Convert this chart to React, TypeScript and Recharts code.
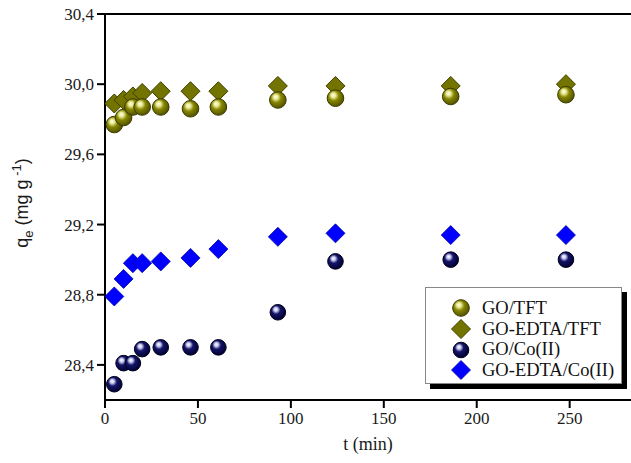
import React from 'react';
import { ScatterChart, Scatter, XAxis, YAxis, Legend, Label, ReferenceLine } from 'recharts';

// contact time (min)
const times = [5, 10, 15, 20, 30, 46, 61, 93, 124, 186, 248];

// q_e (mg g-1) per series
const goTft = [29.77, 29.81, 29.87, 29.87, 29.87, 29.86, 29.87, 29.91, 29.92, 29.93, 29.94];
const goEdtaTft = [29.89, 29.91, 29.93, 29.95, 29.96, 29.96, 29.96, 29.99, 29.99, 29.99, 30.0];
const goCo = [28.29, 28.41, 28.41, 28.49, 28.5, 28.5, 28.5, 28.7, 28.99, 29.0, 29.0];
const goEdtaCo = [28.79, 28.89, 28.98, 28.98, 28.99, 29.01, 29.06, 29.13, 29.15, 29.14, 29.14];

const xTicks = [0, 50, 100, 150, 200, 250];
const yTicks = [28.4, 28.8, 29.2, 29.6, 30.0, 30.4];

type Kind = 'oliveBall' | 'oliveDiamond' | 'navyBall' | 'blueDiamond';

interface SeriesConfig {
  name: string;
  values: number[];
  kind: Kind;
}

const series: SeriesConfig[] = [
  { name: 'GO/TFT', values: goTft, kind: 'oliveBall' },
  { name: 'GO-EDTA/TFT', values: goEdtaTft, kind: 'oliveDiamond' },
  { name: 'GO/Co(II)', values: goCo, kind: 'navyBall' },
  { name: 'GO-EDTA/Co(II)', values: goEdtaCo, kind: 'blueDiamond' },
];

// diamonds first so the balls sit on top of them
const drawOrder = [series[1], series[3], series[0], series[2]];

const serif = '"Liberation Serif", "Times New Roman", serif';
const sans = '"Liberation Sans", Arial, sans-serif';

const Marker = ({ kind, cx, cy }: { kind: Kind; cx: number; cy: number }) => {
  if (kind === 'oliveBall') {
    return <circle cx={cx} cy={cy} r={8.3} fill="url(#ballOlive)" stroke="#3a3a00" strokeWidth={1} />;
  }
  if (kind === 'navyBall') {
    return <circle cx={cx} cy={cy} r={7.8} fill="url(#ballNavy)" stroke="#00001a" strokeWidth={1} />;
  }
  const d = 9.5;
  const pts = `${cx},${cy - d} ${cx + d},${cy} ${cx},${cy + d} ${cx - d},${cy}`;
  if (kind === 'oliveDiamond') {
    return <polygon points={pts} fill="#737300" stroke="#3f3f00" strokeWidth={1} />;
  }
  return <polygon points={pts} fill="#0000ff" stroke="#0000a8" strokeWidth={0.8} />;
};

const YTitle = (props: any) => {
  const vb = props.viewBox || { x: 0, y: 0, width: 0, height: 0 };
  const x = vb.x + 28;
  const y = vb.y + vb.height / 2 - 4;
  return (
    <text
      x={x}
      y={y}
      transform={`rotate(-90 ${x} ${y})`}
      textAnchor="middle"
      fontFamily={sans}
      fontSize={18}
      fill="#1a1a1a"
    >
      q
      <tspan dy={5} fontSize={13}>e</tspan>
      <tspan dy={-5}> (mg g</tspan>
      <tspan dy={-7} fontSize={13}> -1</tspan>
      <tspan dy={7}>)</tspan>
    </text>
  );
};

const LegendBox = () => (
  <div
    style={{
      background: '#fff',
      border: '1px solid #888',
      boxShadow: '5px 5px 0 #000',
      padding: '10px 0 0 24px',
      boxSizing: 'border-box',
      width: 197,
      height: 97,
      fontFamily: serif,
      fontSize: 18.5,
      color: '#111',
    }}
  >
    {series.map((s) => (
      <div key={s.name} style={{ display: 'flex', alignItems: 'center', height: 20.7 }}>
        <svg width={22} height={20} style={{ display: 'block' }}>
          <Marker kind={s.kind} cx={11} cy={10} />
        </svg>
        <span style={{ marginLeft: 10, whiteSpace: 'nowrap' }}>{s.name}</span>
      </div>
    ))}
  </div>
);

const tickStyle = { fill: '#1a1a1a', fontSize: 17, fontFamily: serif };

export default function App() {
  return (
    <div style={{ position: 'absolute', left: 0, top: 0, width: 631, height: 463, background: '#fff' }}>
      <ScatterChart width={631} height={463} margin={{ top: 14, right: 0, bottom: 0, left: 0 }}>
        <defs>
          <radialGradient id="ballOlive" cx="0.42" cy="0.4" r="0.62" fx="0.36" fy="0.3">
            <stop offset="0" stopColor="#ffffe6" />
            <stop offset="0.22" stopColor="#eaea9a" />
            <stop offset="0.5" stopColor="#868600" />
            <stop offset="1" stopColor="#4f4f00" />
          </radialGradient>
          <radialGradient id="ballNavy" cx="0.42" cy="0.4" r="0.62" fx="0.36" fy="0.3">
            <stop offset="0" stopColor="#ffffff" />
            <stop offset="0.2" stopColor="#c8c8f0" />
            <stop offset="0.45" stopColor="#141468" />
            <stop offset="1" stopColor="#000030" />
          </radialGradient>
        </defs>
        <XAxis
          type="number"
          dataKey="t"
          domain={[0, 283]}
          ticks={xTicks}
          allowDataOverflow
          height={63}
          tickSize={8}
          tickMargin={4}
          axisLine={{ stroke: '#000', strokeWidth: 2 }}
          tickLine={{ stroke: '#000', strokeWidth: 2 }}
          tick={tickStyle}
        >
          <Label
            value="t (min)"
            position="insideBottom"
            offset={13}
            style={{ fill: '#1a1a1a', fontSize: 18, fontFamily: serif }}
          />
        </XAxis>
        <YAxis
          type="number"
          dataKey="q"
          domain={[28.2, 30.4]}
          ticks={yTicks}
          allowDataOverflow
          width={105}
          tickSize={8}
          tickMargin={3}
          axisLine={{ stroke: '#000', strokeWidth: 2 }}
          tickLine={{ stroke: '#000', strokeWidth: 2 }}
          tick={tickStyle}
          tickFormatter={(v: number) => v.toFixed(1).replace('.', ',')}
        >
          <Label content={YTitle} />
        </YAxis>
        <ReferenceLine y={30.4} stroke="#000" strokeWidth={2} />
        <Legend
          layout="vertical"
          align="center"
          verticalAlign="middle"
          content={LegendBox}
          wrapperStyle={{ left: 425, top: 287, width: 197, height: 97 }}
        />
        {drawOrder.map((s) => (
          <Scatter
            key={s.name}
            name={s.name}
            data={times.map((t, i) => ({ t, q: s.values[i] }))}
            isAnimationActive={false}
            shape={(p: any) => <Marker kind={s.kind} cx={p.cx} cy={p.cy} />}
          />
        ))}
      </ScatterChart>
    </div>
  );
}
